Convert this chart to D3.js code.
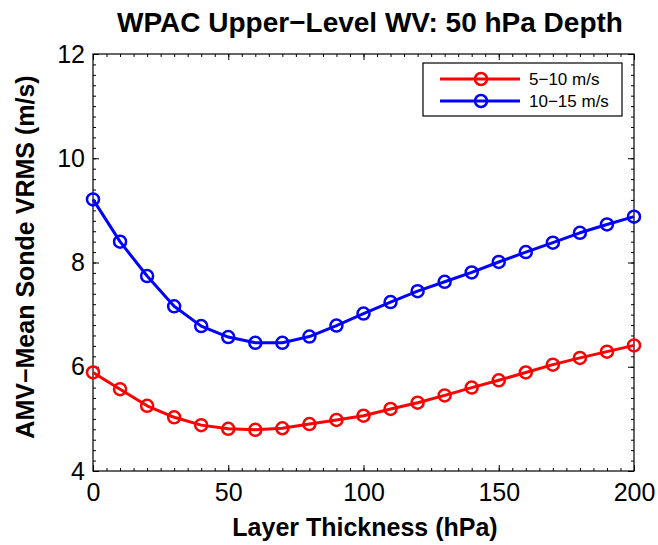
<!DOCTYPE html>
<html>
<head>
<meta charset="utf-8">
<script src="https://cdn.jsdelivr.net/npm/d3@7"></script>
<style>
  html, body { margin: 0; padding: 0; background: #fff; }
  svg { display: block; font-family: "Liberation Sans", Arial, Helvetica, sans-serif; }
</style>
</head>
<body>
<svg id="chart" width="658" height="545"></svg>
<script>
// Layer thickness (hPa) sampled every 10 hPa
const thickness = [0, 10, 20, 30, 40, 50, 60, 70, 80, 90, 100,
                   110, 120, 130, 140, 150, 160, 170, 180, 190, 200];

// AMV minus mean-sonde vector RMS (m/s) per wind-speed class
const vrms5to10 = [5.89, 5.57, 5.25, 5.03, 4.88, 4.81, 4.79, 4.82, 4.90, 4.98, 5.06,
                   5.19, 5.31, 5.45, 5.60, 5.74, 5.89, 6.04, 6.17, 6.29, 6.41];
const vrms10to15 = [9.21, 8.40, 7.74, 7.16, 6.78, 6.57, 6.46, 6.46, 6.58, 6.79, 7.02,
                    7.24, 7.45, 7.63, 7.81, 8.01, 8.20, 8.38, 8.57, 8.73, 8.88];

const seriesNames = ["5\u221210 m/s", "10\u221215 m/s"];
const seriesColors = ["#ff0000", "#0000ff"];

const xTicks = [0, 50, 100, 150, 200];
const yTicks = [4, 6, 8, 10, 12];

const titleText = "WPAC Upper\u2212Level WV: 50 hPa Depth";
const xLabelText = "Layer Thickness (hPa)";
const yLabelText = "AMV\u2212Mean Sonde VRMS (m/s)";

const svg = d3.select("#chart");
const margin = { left: 93, right: 24, top: 54, bottom: 74 };
const W = 658, H = 545;
const plotW = W - margin.left - margin.right;
const plotH = H - margin.top - margin.bottom;

const x = d3.scaleLinear().domain([0, 200]).range([margin.left, margin.left + plotW]);
const y = d3.scaleLinear().domain([4, 12]).range([margin.top + plotH, margin.top]);

const g = svg.append("g");

// Minor and major ticks on all four sides, pointing inward
const xMinor = d3.range(0, 200.001, 5);
const yMinor = d3.range(4, 12.001, 0.2);
const majorLen = 6, minorLen = 3;

function drawTicks(axisGen, transform) {
  g.append("g").attr("transform", transform).call(axisGen)
    .call(s => s.select(".domain").remove())
    .call(s => s.selectAll("text").remove())
    .call(s => s.selectAll("line").attr("stroke", "#000").attr("stroke-width", 1));
}
drawTicks(d3.axisBottom(x).tickValues(xMinor).tickSize(-minorLen), `translate(0,${y(4)})`);
drawTicks(d3.axisBottom(x).tickValues(xTicks).tickSize(-majorLen), `translate(0,${y(4)})`);
drawTicks(d3.axisTop(x).tickValues(xMinor).tickSize(-minorLen), `translate(0,${y(12)})`);
drawTicks(d3.axisTop(x).tickValues(xTicks).tickSize(-majorLen), `translate(0,${y(12)})`);
drawTicks(d3.axisLeft(y).tickValues(yMinor).tickSize(-minorLen), `translate(${x(0)},0)`);
drawTicks(d3.axisLeft(y).tickValues(yTicks).tickSize(-majorLen), `translate(${x(0)},0)`);
drawTicks(d3.axisRight(y).tickValues(yMinor).tickSize(-minorLen), `translate(${x(200)},0)`);
drawTicks(d3.axisRight(y).tickValues(yTicks).tickSize(-majorLen), `translate(${x(200)},0)`);

// Tick labels
const xAxis = g.append("g").attr("transform", `translate(0,${y(4)})`)
  .call(d3.axisBottom(x).tickValues(xTicks).tickSize(0).tickPadding(12).tickFormat(d3.format("d")));
xAxis.select(".domain").remove();
xAxis.selectAll("text").attr("font-size", 25).attr("fill", "#000")
  .attr("font-family", "Liberation Sans, Arial, sans-serif");

const yAxis = g.append("g").attr("transform", `translate(${x(0)},0)`)
  .call(d3.axisLeft(y).tickValues(yTicks).tickSize(0).tickPadding(8).tickFormat(d3.format("d")));
yAxis.select(".domain").remove();
yAxis.selectAll("text").attr("font-size", 25).attr("fill", "#000")
  .attr("font-family", "Liberation Sans, Arial, sans-serif");

// Plot box
g.append("rect")
  .attr("x", x(0)).attr("y", y(12))
  .attr("width", x(200) - x(0)).attr("height", y(4) - y(12))
  .attr("fill", "none").attr("stroke", "#000").attr("stroke-width", 1.2);

// Series
const series = [vrms5to10, vrms10to15];
const line = d3.line().x((d, i) => x(thickness[i])).y(d => y(d));
series.forEach((vals, k) => {
  g.append("path").datum(vals)
    .attr("d", line)
    .attr("fill", "none")
    .attr("stroke", seriesColors[k])
    .attr("stroke-width", 3)
    .attr("stroke-linejoin", "round");
  g.selectAll(null).data(vals).enter().append("circle")
    .attr("cx", (d, i) => x(thickness[i]))
    .attr("cy", d => y(d))
    .attr("r", 6)
    .attr("fill", "none")
    .attr("stroke", seriesColors[k])
    .attr("stroke-width", 2.5);
});

// Legend
const legend = g.append("g");
legend.append("rect")
  .attr("x", 423).attr("y", 63).attr("width", 199).attr("height", 53)
  .attr("fill", "#fff").attr("stroke", "#000").attr("stroke-width", 1.2);
seriesNames.forEach((name, k) => {
  const ly = 79 + k * 22;
  legend.append("line").attr("x1", 440).attr("x2", 520).attr("y1", ly).attr("y2", ly)
    .attr("stroke", seriesColors[k]).attr("stroke-width", 3);
  legend.append("circle").attr("cx", 481).attr("cy", ly).attr("r", 6)
    .attr("fill", "none").attr("stroke", seriesColors[k]).attr("stroke-width", 2.5);
  legend.append("text").attr("x", 529).attr("y", ly).attr("dy", "0.35em")
    .attr("font-size", 17).attr("fill", "#000").text(name);
});

// Title and axis labels
svg.append("text")
  .attr("x", 370).attr("y", 32)
  .attr("text-anchor", "middle").attr("font-size", 28).attr("font-weight", "bold")
  .text(titleText);
svg.append("text")
  .attr("x", 365).attr("y", 536)
  .attr("text-anchor", "middle").attr("font-size", 25).attr("font-weight", "bold")
  .text(xLabelText);
svg.append("text")
  .attr("transform", `translate(25,257) rotate(-90)`)
  .attr("dy", "0.35em")
  .attr("text-anchor", "middle").attr("font-size", 25).attr("font-weight", "bold")
  .text(yLabelText);
</script>
</body>
</html>
